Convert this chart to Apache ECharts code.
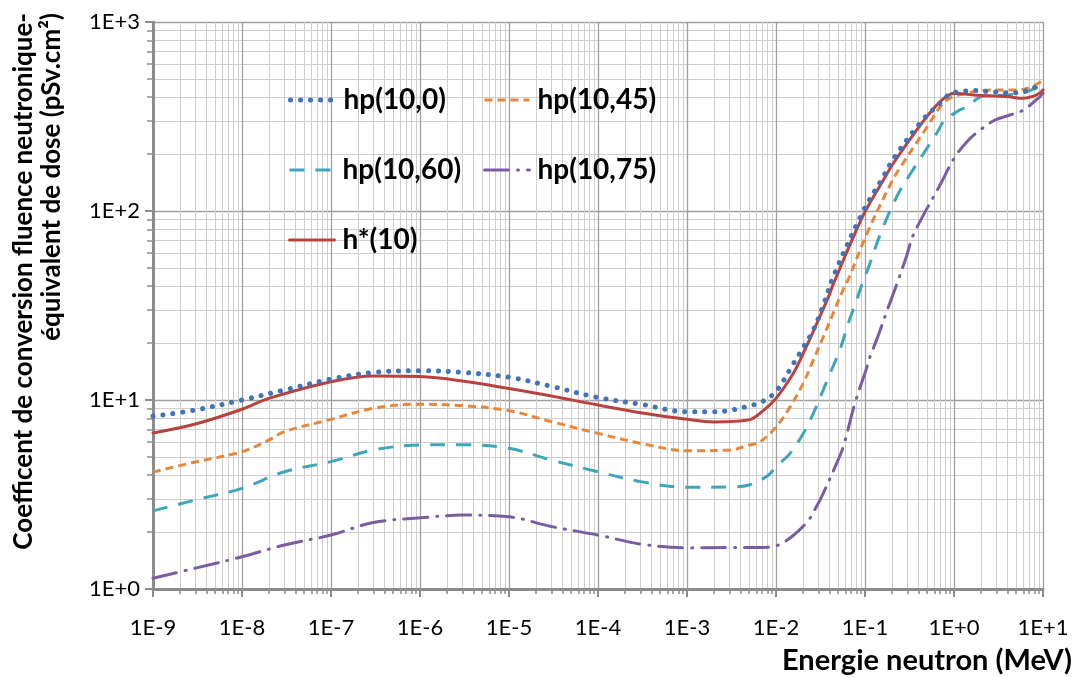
<!DOCTYPE html>
<html>
<head>
<meta charset="utf-8">
<script src="https://cdn.jsdelivr.net/npm/echarts@6/dist/echarts.min.js"></script>
<style>html,body{margin:0;padding:0;background:#fff;}#c{width:1076px;height:677px;}</style>
</head>
<body>
<div id="c"></div>
<script>
// ---- data ----
const xTickLabels = ['1E-9','1E-8','1E-7','1E-6','1E-5','1E-4','1E-3','1E-2','1E-1','1E+0','1E+1'];
const yTickLabels = ['1E+0','1E+1','1E+2','1E+3'];

const seriesNames = ['hp(10,0)','hp(10,45)','hp(10,60)','hp(10,75)','h*(10)'];

const E_hp0  = [1e-9,3e-9,1e-8,3e-8,1e-7,3e-7,1e-6,3e-6,1e-5,3e-5,1e-4,3e-4,1e-3,2e-3,3e-3,5e-3,7e-3,1e-2,1.56e-2,2.03e-2,2.63e-2,3.5e-2,4.4e-2,0.0957,0.161,0.21,0.45,0.76,0.86,1.12,1.44,1.88,2.4,3.2,4.0,5.2,6.8,8.5,10];
const V_hp0  = [8.2,8.85,10.0,11.3,12.9,14.0,14.3,14.0,13.2,11.8,10.3,9.5,8.67,8.67,8.8,9.3,9.8,11.1,15.5,19,23.5,33,45,100,152,190,305,385,410,428,432,435,428,425,422,422,435,455,470];

const E_hp45 = [1e-9,3e-9,1e-8,2e-8,3e-8,1e-7,3e-7,1e-6,3e-6,1e-5,3e-5,1e-4,3e-4,1e-3,3e-3,5e-3,6.6e-3,1e-2,1.44e-2,2.03e-2,2.63e-2,3.4e-2,4.4e-2,5.7e-2,0.065,0.104,0.192,0.247,0.49,0.70,0.9,1.39,2.53,5.06,6.8,10];
const V_hp45 = [4.16,4.7,5.33,6.14,6.8,7.9,9.04,9.5,9.33,8.78,7.68,6.66,5.9,5.39,5.43,5.78,6.0,7.2,9.2,12.3,16.3,21.6,28.8,38.5,43.5,75,138,169,275,356,395,420,437,437,446,490];

const E_hp60 = [1e-9,3e-9,1e-8,3e-8,1e-7,3e-7,1e-6,3e-6,1e-5,3e-5,1e-4,3e-4,1e-3,3e-3,5e-3,8.2e-3,1e-2,1.44e-2,2.03e-2,2.63e-2,3.26e-2,4.04e-2,5.24e-2,6.5e-2,8.07e-2,0.096,0.109,0.148,0.227,0.32,0.64,0.79,1.17,1.39,2.14,3.9,6.6,10];
const V_hp60 = [2.59,2.96,3.41,4.17,4.72,5.44,5.78,5.8,5.55,4.81,4.17,3.7,3.45,3.47,3.55,4.0,4.44,5.22,6.66,8.5,10.8,13.8,18.5,25.5,33.8,43,50,75,119,156,258,303,343,356,406,411,428,470];

const E_hp75 = [1e-9,3e-9,1e-8,3e-8,1e-7,3e-7,1e-6,3e-6,1e-5,3e-5,1e-4,3e-4,1e-3,3e-3,7e-3,1e-2,1.5e-2,2.3e-2,2.74e-2,3.26e-2,4.8e-2,5.7e-2,7.7e-2,0.104,0.1137,0.135,0.183,0.217,0.294,0.35,0.70,1.03,1.45,1.96,2.9,4.26,6.0,9.25,10];
const V_hp75 = [1.14,1.29,1.48,1.71,1.93,2.25,2.38,2.46,2.41,2.14,1.93,1.73,1.65,1.66,1.66,1.69,1.89,2.3,2.64,3.08,4.62,5.66,9.6,14.7,16.9,20.8,31,38.5,58,75,138,194,237,268,303,322,342,403,420];

const E_hstar = [1e-9,3e-9,1e-8,2e-8,1e-7,3e-7,1e-6,3e-6,1e-5,3e-5,1e-4,3e-4,1e-3,2e-3,5e-3,7e-3,1e-2,1.56e-2,2.03e-2,2.99e-2,3.87e-2,4.4e-2,0.0957,0.161,0.21,0.45,0.70,1.0,1.65,3.9,6.0,8.5,10];
const V_hstar = [6.69,7.46,8.93,10.2,12.5,13.4,13.3,12.6,11.5,10.5,9.4,8.57,7.9,7.66,7.85,8.7,10.2,13.8,17.7,26.5,35,41,95,146,180,298,379,420,411,403,395,411,437];

// ---- chart ----
const pairs = (E, V) => E.map((e, i) => [e, V[i]]);
const colors = ['#4272b8', '#e8873a', '#3ea5bd', '#7a5ca3', '#b9423f'];
const styles = [
  { type: [0.1, 9.9], width: 5, cap: 'round' },
  { type: [8, 5], width: 3, cap: 'butt' },
  { type: [15, 11], width: 3, cap: 'butt' },
  { type: [24, 9, 1, 9], width: 3, cap: 'round' },
  { type: 'solid', width: 3, cap: 'round' }
];
const dataSets = [pairs(E_hp0, V_hp0), pairs(E_hp45, V_hp45), pairs(E_hp60, V_hp60), pairs(E_hp75, V_hp75), pairs(E_hstar, V_hstar)];
const order = [3, 2, 1, 4, 0];

const series = order.map(k => ({
  name: seriesNames[k],
  type: 'line',
  data: dataSets[k],
  smooth: 0.35,
  symbol: 'none',
  itemStyle: { color: colors[k] },
  lineStyle: Object.assign({ color: colors[k] }, styles[k])
}));

const legendPos = [
  { left: 288, top: 85 },
  { left: 483, top: 85 },
  { left: 288, top: 155 },
  { left: 483, top: 155 },
  { left: 288, top: 225 }
];
const legends = seriesNames.map((n, k) => ({
  data: [n],
  left: legendPos[k].left,
  top: legendPos[k].top,
  padding: 0,
  itemWidth: 45,
  itemHeight: 14,
  itemGap: 0,
  selectedMode: false,
  itemStyle: { opacity: 0 },
  lineStyle: { width: styles[k].width, type: styles[k].type, cap: styles[k].cap, color: colors[k] },
  textStyle: { fontFamily: 'Lato', fontWeight: 'bold', fontSize: 28, lineHeight: 30, color: '#000', padding: [0, 0, 0, 3] }
}));

const chart = echarts.init(document.getElementById('c'), null, { renderer: 'canvas' });
chart.setOption({
  animation: false,
  backgroundColor: '#fff',
  grid: { left: 153, right: 33, top: 22, bottom: 88, containLabel: false },
  legend: legends,
  xAxis: {
    type: 'log', logBase: 10, min: 1e-9, max: 10,
    axisLine: { show: true, lineStyle: { color: '#8c8c8c', width: 3 } },
    axisTick: { show: true, length: 8, lineStyle: { color: '#8c8c8c', width: 2 } },
    minorTick: { show: true, splitNumber: 9, length: 5, lineStyle: { color: '#8c8c8c', width: 1.5 } },
    splitLine: { show: true, lineStyle: { color: '#a0a0a0', width: 1.3 } },
    minorSplitLine: { show: true, lineStyle: { color: '#cfcfcf', width: 1 } },
    axisLabel: {
      margin: 28, fontFamily: 'Lato', fontSize: 22, color: '#000',
      formatter: v => xTickLabels[Math.round(Math.log10(v)) + 9]
    }
  },
  yAxis: {
    type: 'log', logBase: 10, min: 1, max: 1000,
    axisLine: { show: true, lineStyle: { color: '#8c8c8c', width: 3 } },
    axisTick: { show: true, length: 8, lineStyle: { color: '#8c8c8c', width: 2 } },
    minorTick: { show: true, splitNumber: 9, length: 6, lineStyle: { color: '#8c8c8c', width: 1.5 } },
    splitLine: { show: true, lineStyle: { color: '#a0a0a0', width: 1.3 } },
    minorSplitLine: { show: true, lineStyle: { color: '#cfcfcf', width: 1 } },
    axisLabel: {
      margin: 13, fontFamily: 'Lato', fontSize: 22, color: '#000',
      formatter: v => yTickLabels[Math.round(Math.log10(v))]
    }
  },
  graphic: [
    {
      type: 'text', x: 10, y: 13, rotation: Math.PI / 2,
      style: {
        text: 'Coefficent de conversion fluence neutronique-\néquivalent de dose (pSv.cm²)',
        fontFamily: 'Lato', fontWeight: 'bold', fontSize: 26, lineHeight: 28,
        fill: '#000', align: 'right', verticalAlign: 'top'
      }
    },
    {
      type: 'text', x: 1072, y: 661,
      style: {
        text: 'Energie neutron (MeV)',
        fontFamily: 'Lato', fontWeight: 'bold', fontSize: 29,
        fill: '#000', align: 'right', verticalAlign: 'middle'
      }
    }
  ],
  series: series
});
</script>
</body>
</html>
